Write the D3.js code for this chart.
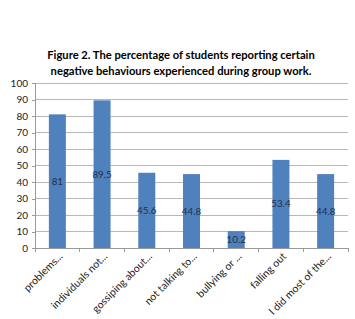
<!DOCTYPE html>
<html><head><meta charset="utf-8">
<script src="https://cdnjs.cloudflare.com/ajax/libs/d3/7.8.5/d3.min.js"></script>
<style>body{margin:0;background:#fff}svg{display:block}</style>
</head><body>
<svg id="c" width="355" height="319"></svg>
<script>
const categories = ["problems...", "individuals not...", "gossiping about...", "not talking to...", "bullying or ...", "falling out", "I did most of the..."];
const values = [81, 89.5, 45.6, 44.8, 10.2, 53.4, 44.8];
const valueLabels = ["81", "89.5", "45.6", "44.8", "10.2", "53.4", "44.8"];
const yTicks = [0,10,20,30,40,50,60,70,80,90,100];
const titleLines = ["Figure 2. The percentage of students reporting certain", "negative behaviours experienced during group work."];

(function(){
const svg = d3.select("#c");
const font = "Lato, 'Open Sans', sans-serif";
const pLeft = 35, pRight = 348, pTop = 83, pBottom = 248;

const x = d3.scaleBand().domain(categories).range([pLeft, pRight]).paddingInner(0.62).paddingOuter(0.31);
const y = d3.scaleLinear().domain([0, 100]).range([pBottom, pTop]);

svg.append("g").selectAll("text").data(titleLines).join("text")
  .attr("x", 181).attr("y", (d,i) => 59 + i*16)
  .attr("text-anchor", "middle").attr("font-family", font).attr("font-weight", "bold")
  .attr("font-size", 11.2).attr("fill", "#000").text(d => d);

svg.append("g").selectAll("line").data(yTicks.filter(t => t > 0)).join("line")
  .attr("x1", pLeft).attr("x2", pRight).attr("y1", d => y(d)).attr("y2", d => y(d))
  .attr("stroke", "#b8b8b8").attr("stroke-width", 1).attr("shape-rendering", "crispEdges");

const yAxis = svg.append("g").attr("transform", `translate(${pLeft},0)`)
  .call(d3.axisLeft(y).tickValues(yTicks).tickSize(3).tickPadding(4));
yAxis.select(".domain").attr("stroke", "#999").attr("shape-rendering", "crispEdges");
yAxis.selectAll(".tick line").attr("stroke", "#999").attr("shape-rendering", "crispEdges");
yAxis.selectAll("text").attr("font-family", font).attr("font-size", 10).attr("fill", "#222");

svg.append("g").selectAll("rect").data(values).join("rect")
  .attr("x", (d,i) => x(categories[i])).attr("width", x.bandwidth())
  .attr("y", d => y(d)).attr("height", d => y(0) - y(d))
  .attr("fill", "#4F81BD");

svg.append("g").selectAll("text").data(values).join("text")
  .attr("x", (d,i) => x(categories[i]) + x.bandwidth()/2)
  .attr("y", d => y(d/2) + 3.5)
  .attr("text-anchor", "middle").attr("font-family", font).attr("font-size", 9.8)
  .attr("fill", "#1F3050").text((d,i) => valueLabels[i]);

const xa = svg.append("g");
xa.append("line").attr("x1", pLeft).attr("x2", pRight).attr("y1", pBottom).attr("y2", pBottom)
  .attr("stroke", "#999").attr("shape-rendering", "crispEdges");
const bounds = d3.range(categories.length + 1).map(i => pLeft + (pRight - pLeft) * i / categories.length);
xa.selectAll("line.t").data(bounds).join("line").attr("class", "t")
  .attr("x1", d => d).attr("x2", d => d).attr("y1", pBottom).attr("y2", pBottom + 4)
  .attr("stroke", "#999").attr("shape-rendering", "crispEdges");
xa.selectAll("text").data(categories).join("text")
  .attr("transform", d => `translate(${x(d) + x.bandwidth()/2 + 6},${pBottom + 9}) rotate(-45)`)
  .attr("text-anchor", "end").attr("font-family", font).attr("font-size", 10.5)
  .attr("fill", "#222").text(d => d);
})();
</script>
</body></html>
